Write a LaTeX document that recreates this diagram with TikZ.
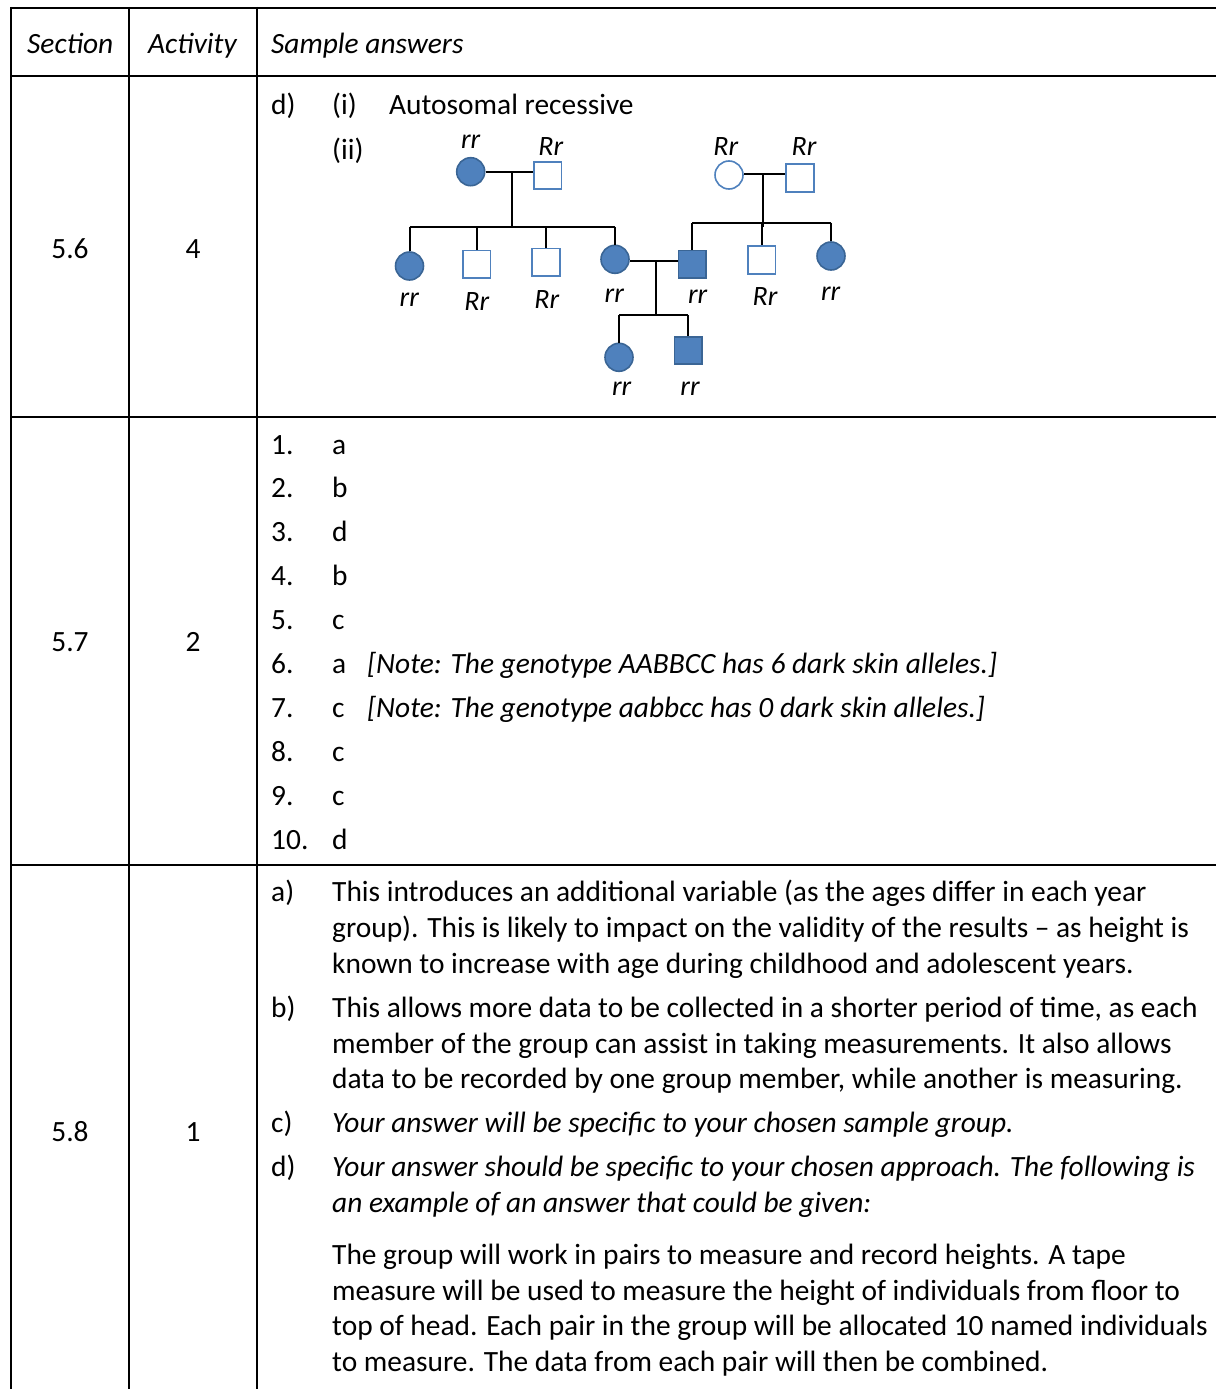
\documentclass[tikz,border=0pt]{standalone}
\usepackage{fontspec}
\setmainfont{Carlito}
\definecolor{pedblue}{HTML}{4F81BD}
\definecolor{peddark}{HTML}{3A6595}
\begin{document}
\begin{tikzpicture}[x=1pt,y=-1pt,
  grid/.style={line width=2pt,black},
  txt/.style={anchor=base west,inner sep=0pt,font=\fontsize{29.4}{36}\selectfont},
  ctxt/.style={anchor=base,inner sep=0pt,font=\fontsize{29.4}{36}\selectfont},
  itxt/.style={txt,font=\fontsize{29.4}{36}\selectfont\itshape},
  glab/.style={inner sep=0pt,font=\fontsize{28}{32}\selectfont\itshape},
  fem/.style={circle,minimum size=28pt,inner sep=0pt,line width=1.6pt},
  mal/.style={rectangle,minimum size=27.5pt,inner sep=0pt,line width=1.6pt},
  aff/.style={fill=pedblue,draw=peddark},
  unaff/.style={fill=white,draw=pedblue},
  link/.style={line width=2pt,black}]
\useasboundingbox (0,0) rectangle (1216,1389);
% table grid
\draw[grid] (11,8) -- (1216,8);
\draw[grid] (11,76) -- (1216,76);
\draw[grid] (11,417) -- (1216,417);
\draw[grid] (11,865) -- (1216,865);
\draw[grid] (11,7) -- (11,1389);
\draw[grid] (129,7) -- (129,1389);
\draw[grid] (257,7) -- (257,1389);
% header
\node[itxt] (hsec) at (27,53.5) {Section};
\node[itxt] (hact) at (148,53.5) {Activity};
\node[itxt] (hans) at (271,53.5) {Sample answers};
% section / activity numbers
\node[ctxt] (s56) at (70,258) {5.6};
\node[ctxt] (a56) at (193,258) {4};
\node[ctxt] (s57) at (70,651) {5.7};
\node[ctxt] (a57) at (193,651) {2};
\node[ctxt] (s58) at (70,1141) {5.8};
\node[ctxt] (a58) at (193,1141) {1};
% row 5.6
\node[txt] (d56) at (271,114.5) {d)};
\node[txt] (i56) at (332,114.5) {(i)};
\node[txt] (ar56) at (389,114.5) {Autosomal recessive};
\node[txt] (ii56) at (332,159) {(ii)};
% pedigree generation I
\node[fem,aff] (g1f) at (470.7,171.7) {};
\node[mal,unaff] (g1m) at (547.8,175.5) {};
\node[fem,unaff] (g2f) at (729,175) {};
\node[mal,unaff] (g2m) at (800,178) {};
% generation II
\node[fem,aff] (c1) at (409.5,266) {};
\node[mal,unaff] (c2) at (476.7,264.2) {};
\node[mal,unaff] (c3) at (546,262.3) {};
\node[fem,aff] (c4) at (615,259.3) {};
\node[mal,aff] (c5) at (692.2,264.3) {};
\node[mal,unaff] (c6) at (761.7,260) {};
\node[fem,aff] (c7) at (831,256) {};
% generation III
\node[fem,aff] (d1) at (619,357.3) {};
\node[mal,aff] (d2) at (688.3,350.5) {};
% coordinates
\coordinate (m1) at (511.7,172.3);
\coordinate (b1) at (511.7,226.7);
\coordinate (m2) at (763.3,174.3);
\coordinate (b2) at (763.3,227.3);
\coordinate (s2) at (763.3,222.7);
\coordinate (m3) at (655.7,261);
\coordinate (b3) at (655.7,315);
% connectors
\draw[link] (g1f.east |- m1) -- (g1m.west |- m1);
\draw[link] (m1) -- (b1);
\draw[link] (c1.north |- b1) -- (c4.north |- b1);
\draw[link] (c1.north |- b1) -- (c1.north);
\draw[link] (c2.north |- b1) -- (c2.north);
\draw[link] (c3.north |- b1) -- (c3.north);
\draw[link] (c4.north |- b1) -- (c4.north);
\draw[link] (g2f.east |- m2) -- (g2m.west |- m2);
\draw[link] (m2) -- (b2);
\draw[link] (c5.north |- s2) -- (c7.north |- s2);
\draw[link] (c5.north |- s2) -- (c5.north);
\draw[link] (c6.north |- s2) -- (c6.north);
\draw[link] (c7.north |- s2) -- (c7.north);
\draw[link] (c4.east |- m3) -- (c5.west |- m3);
\draw[link] (m3) -- (b3);
\draw[link] (d1.north |- b3) -- (d2.north |- b3);
\draw[link] (d1.north |- b3) -- (d1.north);
\draw[link] (d2.north |- b3) -- (d2.north);
% genotype labels
\node[glab] (lg1f) at (470.7,141.7) {rr};
\node[glab] (lg1m) at (550.7,146.7) {Rr};
\node[glab] (lg2f) at (725.7,146.7) {Rr};
\node[glab] (lg2m) at (804,146.7) {Rr};
\node[glab] (lc1) at (409.3,300) {rr};
\node[glab] (lc2) at (476.7,301.7) {Rr};
\node[glab] (lc3) at (546.7,300) {Rr};
\node[glab] (lc4) at (614.3,296) {rr};
\node[glab] (lc5) at (697.7,296.7) {rr};
\node[glab] (lc6) at (765,296.7) {Rr};
\node[glab] (lc7) at (830.7,294) {rr};
\node[glab] (ld1) at (621.7,388.3) {rr};
\node[glab] (ld2) at (690,388.3) {rr};
% row 5.7
\foreach \n/\l [count=\i from 0] in {1./a,2./b,3./d,4./b,5./c,6./a,7./c,8./c,9./c,10./d}{
  \node[txt] (q\i) at (271,454+43.9*\i) {\n};
  \node[txt] (r\i) at (332,454+43.9*\i) {\l};
}
\node[itxt] (note6) at (367,673.5) {[Note: The genotype AABBCC has 6 dark skin alleles.]};
\node[itxt] (note7) at (367,717.4) {[Note: The genotype aabbcc has 0 dark skin alleles.]};
% row 5.8
\node[txt] (la) at (271,901.5) {a)};
\node[txt] (la1) at (332,901.5) {This introduces an additional variable (as the ages differ in each year};
\node[txt] (la2) at (332,937.5) {group). This is likely to impact on the validity of the results – as height is};
\node[txt] (la3) at (332,973.5) {known to increase with age during childhood and adolescent years.};
\node[txt] (lb) at (271,1017.5) {b)};
\node[txt] (lb1) at (332,1017.5) {This allows more data to be collected in a shorter period of time, as each};
\node[txt] (lb2) at (332,1053.5) {member of the group can assist in taking measurements. It also allows};
\node[txt] (lb3) at (332,1088.5) {data to be recorded by one group member, while another is measuring.};
\node[txt] (lc) at (271,1132.5) {c)};
\node[itxt] (lc1t) at (332,1132.5) {Your answer will be specific to your chosen sample group.};
\node[txt] (ld) at (271,1176.5) {d)};
\node[itxt] (ld1t) at (332,1176.5) {Your answer should be specific to your chosen approach. The following is};
\node[itxt] (ld2t) at (332,1212.5) {an example of an answer that could be given:};
\node[txt] (p1) at (332,1264.5) {The group will work in pairs to measure and record heights. A tape};
\node[txt] (p2) at (332,1300.5) {measure will be used to measure the height of individuals from floor to};
\node[txt] (p3) at (332,1335.5) {top of head. Each pair in the group will be allocated 10 named individuals};
\node[txt] (p4) at (332,1371.5) {to measure. The data from each pair will then be combined.};
\end{tikzpicture}
\end{document}
